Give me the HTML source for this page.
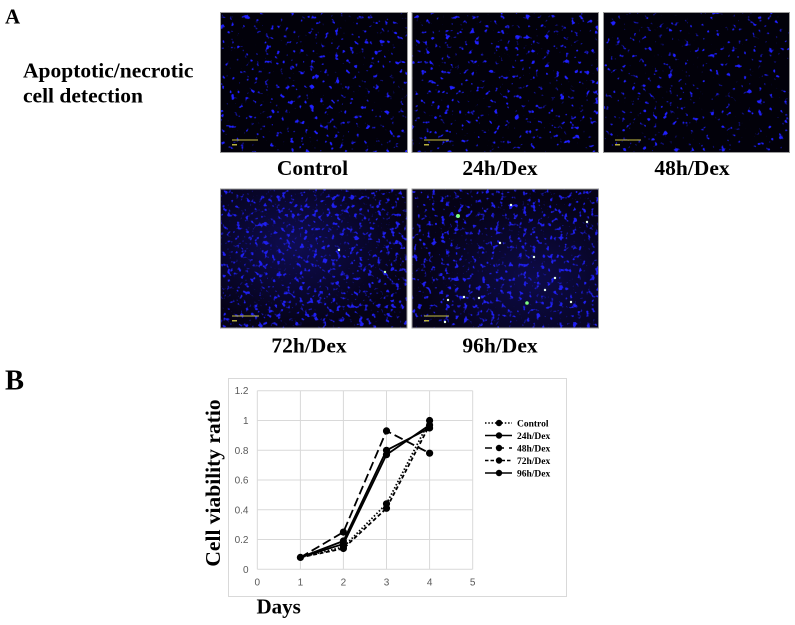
<!DOCTYPE html>
<html>
<head>
<meta charset="utf-8">
<style>
html,body{margin:0;padding:0;background:#fff;}
svg{display:block;}
.lbl{font-family:"Liberation Serif",serif;font-weight:bold;fill:#000;}
.tick{font-family:"Liberation Sans",sans-serif;font-size:10px;fill:#595959;}
</style>
</head>
<body>
<svg width="795" height="625" viewBox="0 0 795 625" xmlns="http://www.w3.org/2000/svg">
<defs>
  <filter id="sp" x="0" y="0" width="1" height="1" color-interpolation-filters="sRGB">
    <feTurbulence type="fractalNoise" baseFrequency="0.2" numOctaves="2" seed="3"/>
    <feColorMatrix type="matrix" values="0 0 0 0 0.12  0 0 0 0 0.12  0 0 0 0 1  9 0 0 0 -5.85"/>
  </filter>
  <filter id="sp2" x="0" y="0" width="1" height="1" color-interpolation-filters="sRGB">
    <feTurbulence type="fractalNoise" baseFrequency="0.2" numOctaves="2" seed="11"/>
    <feColorMatrix type="matrix" values="0 0 0 0 0.12  0 0 0 0 0.12  0 0 0 0 1  9 0 0 0 -5.85"/>
  </filter>
  <filter id="sp3" x="0" y="0" width="1" height="1" color-interpolation-filters="sRGB">
    <feTurbulence type="fractalNoise" baseFrequency="0.19" numOctaves="2" seed="21"/>
    <feColorMatrix type="matrix" values="0 0 0 0 0.12  0 0 0 0 0.12  0 0 0 0 1  9 0 0 0 -5.9"/>
  </filter>
  <filter id="dn" x="0" y="0" width="1" height="1" color-interpolation-filters="sRGB">
    <feTurbulence type="fractalNoise" baseFrequency="0.22" numOctaves="2" seed="7"/>
    <feColorMatrix type="matrix" values="0 0 0 0 0.12  0 0 0 0 0.12  0 0 0 0 0.95  8 0 0 0 -4.7"/>
  </filter>
  <filter id="dn2" x="0" y="0" width="1" height="1" color-interpolation-filters="sRGB">
    <feTurbulence type="fractalNoise" baseFrequency="0.22" numOctaves="2" seed="17"/>
    <feColorMatrix type="matrix" values="0 0 0 0 0.12  0 0 0 0 0.12  0 0 0 0 0.95  8 0 0 0 -4.8"/>
  </filter>
  <radialGradient id="h1" cx="0.4" cy="0.4" r="0.6">
    <stop offset="0" stop-color="#2020c0" stop-opacity="0.35"/>
    <stop offset="1" stop-color="#2020c0" stop-opacity="0"/>
  </radialGradient>
  <radialGradient id="h2" cx="0.65" cy="0.65" r="0.6">
    <stop offset="0" stop-color="#2020c0" stop-opacity="0.3"/>
    <stop offset="1" stop-color="#2020c0" stop-opacity="0"/>
  </radialGradient>
</defs>

<!-- Panel A -->
<text class="lbl" x="5" y="23.5" font-size="21">A</text>
<text class="lbl" x="23" y="77.5" font-size="21.5">Apoptotic/necrotic</text>
<text class="lbl" x="23" y="102.5" font-size="21.5">cell detection</text>

<!-- Row 1 images -->
<rect x="220.5" y="12.5" width="187" height="140" fill="#02010a"/>
<rect x="220.5" y="12.5" width="187" height="140" fill="#000" filter="url(#sp)"/>
<rect x="220.5" y="12.5" width="187" height="140" fill="none" stroke="#9a9a9a" stroke-width="1"/>
<line x1="232" y1="140" x2="258" y2="140" stroke="#c8c040" stroke-width="1"/>
<rect x="232" y="144" width="5" height="1.5" fill="#b8b040"/>

<rect x="412" y="12.5" width="186.5" height="140" fill="#02010a"/>
<rect x="412" y="12.5" width="186.5" height="140" fill="#000" filter="url(#sp2)"/>
<rect x="412" y="12.5" width="186.5" height="140" fill="none" stroke="#9a9a9a" stroke-width="1"/>
<line x1="424" y1="140" x2="449" y2="140" stroke="#c8c040" stroke-width="1"/>
<rect x="424" y="144" width="5" height="1.5" fill="#b8b040"/>

<rect x="603.5" y="12.5" width="186" height="140" fill="#02010a"/>
<rect x="603.5" y="12.5" width="186" height="140" fill="#000" filter="url(#sp3)"/>
<rect x="603.5" y="12.5" width="186" height="140" fill="none" stroke="#9a9a9a" stroke-width="1"/>
<line x1="615" y1="140" x2="641" y2="140" stroke="#c8c040" stroke-width="1"/>
<rect x="615" y="144" width="5" height="1.5" fill="#b8b040"/>

<text class="lbl" x="312.5" y="175" font-size="21.5" text-anchor="middle">Control</text>
<text class="lbl" x="500" y="175" font-size="21.5" text-anchor="middle">24h/Dex</text>
<text class="lbl" x="692" y="175" font-size="21.5" text-anchor="middle">48h/Dex</text>

<!-- Row 2 images -->
<rect x="220.5" y="189" width="186.5" height="139" fill="#050216"/>
<rect x="220.5" y="189" width="186.5" height="139" fill="url(#h1)"/>
<rect x="220.5" y="189" width="186.5" height="139" fill="#000" filter="url(#dn)"/>
<rect x="220.5" y="189" width="186.5" height="139" fill="none" stroke="#9a9a9a" stroke-width="1"/>
<line x1="232" y1="316" x2="259" y2="316" stroke="#c8c040" stroke-width="1"/>
<rect x="232" y="320" width="5" height="1.5" fill="#b8b040"/>
<circle cx="339" cy="250" r="1.2" fill="#e0ffe0"/>
<circle cx="385" cy="272" r="1.2" fill="#c0ffc0"/>

<rect x="412" y="189" width="186.5" height="139" fill="#050216"/>
<rect x="412" y="189" width="186.5" height="139" fill="url(#h2)"/>
<rect x="412" y="189" width="186.5" height="139" fill="#000" filter="url(#dn2)"/>
<rect x="412" y="189" width="186.5" height="139" fill="none" stroke="#9a9a9a" stroke-width="1"/>
<line x1="424" y1="316" x2="449" y2="316" stroke="#c8c040" stroke-width="1"/>
<rect x="424" y="320" width="5" height="1.5" fill="#b8b040"/>
<g fill="#e8ffe8">
  <circle cx="458" cy="216" r="2" fill="#80ff80"/>
  <circle cx="500" cy="243" r="1.2"/>
  <circle cx="534" cy="257" r="1.2"/>
  <circle cx="479" cy="298" r="1.2"/>
  <circle cx="545" cy="290" r="1.2"/>
  <circle cx="527" cy="303" r="1.8" fill="#80ff80"/>
  <circle cx="571" cy="302" r="1.2"/>
  <circle cx="587" cy="222" r="1.2"/>
  <circle cx="464" cy="297" r="1.2"/>
  <circle cx="448" cy="300" r="1.2"/>
  <circle cx="445" cy="322" r="1.2"/>
  <circle cx="511" cy="205" r="1.2"/>
  <circle cx="555" cy="278" r="1.2"/>
</g>

<text class="lbl" x="309" y="352.5" font-size="21.5" text-anchor="middle">72h/Dex</text>
<text class="lbl" x="500" y="352.5" font-size="21.5" text-anchor="middle">96h/Dex</text>

<!-- Panel B -->
<text class="lbl" x="5" y="389.5" font-size="28.5">B</text>

<!-- chart frame -->
<rect x="228.5" y="378.5" width="338" height="218" fill="#fff" stroke="#d9d9d9" stroke-width="1"/>

<!-- gridlines -->
<g stroke="#d9d9d9" stroke-width="1">
  <line x1="257.3" y1="390.7" x2="472.7" y2="390.7"/>
  <line x1="257.3" y1="420.5" x2="472.7" y2="420.5"/>
  <line x1="257.3" y1="450.3" x2="472.7" y2="450.3"/>
  <line x1="257.3" y1="480.0" x2="472.7" y2="480.0"/>
  <line x1="257.3" y1="509.8" x2="472.7" y2="509.8"/>
  <line x1="257.3" y1="539.5" x2="472.7" y2="539.5"/>
  <line x1="257.3" y1="569.3" x2="472.7" y2="569.3"/>
  <line x1="257.3" y1="390.7" x2="257.3" y2="569.3"/>
  <line x1="300.4" y1="390.7" x2="300.4" y2="569.3"/>
  <line x1="343.4" y1="390.7" x2="343.4" y2="569.3"/>
  <line x1="386.5" y1="390.7" x2="386.5" y2="569.3"/>
  <line x1="429.6" y1="390.7" x2="429.6" y2="569.3"/>
  <line x1="472.7" y1="390.7" x2="472.7" y2="569.3"/>
</g>

<!-- y tick labels -->
<g class="tick" text-anchor="end">
  <text x="248.5" y="394.2">1.2</text>
  <text x="248.5" y="424">1</text>
  <text x="248.5" y="453.8">0.8</text>
  <text x="248.5" y="483.5">0.6</text>
  <text x="248.5" y="513.3">0.4</text>
  <text x="248.5" y="543">0.2</text>
  <text x="248.5" y="572.8">0</text>
</g>
<g class="tick" text-anchor="middle">
  <text x="257.3" y="585.5">0</text>
  <text x="300.4" y="585.5">1</text>
  <text x="343.4" y="585.5">2</text>
  <text x="386.5" y="585.5">3</text>
  <text x="429.6" y="585.5">4</text>
  <text x="472.7" y="585.5">5</text>
</g>

<!-- axis titles -->
<text class="lbl" font-size="21.5" text-anchor="middle" transform="translate(220,483) rotate(-90)">Cell viability ratio</text>
<text class="lbl" x="256.5" y="613.5" font-size="21">Days</text>

<!-- series -->
<g fill="none" stroke="#000" stroke-width="1.8">
  <polyline points="300.4,557.4 343.4,547.0 386.5,503.8 429.6,420.5" stroke-dasharray="1.5 2"/>
  <polyline points="300.4,557.4 343.4,541.0 386.5,450.3 429.6,428.0"/>
  <polyline points="300.4,557.4 343.4,532.1 386.5,430.9 429.6,453.2" stroke-dasharray="9 4"/>
  <polyline points="300.4,557.4 343.4,548.5 386.5,508.3 429.6,425.0" stroke-dasharray="4 2.5"/>
  <polyline points="300.4,557.4 343.4,544.0 386.5,454.7 429.6,425.0"/>
</g>
<g fill="#000">
  <circle cx="300.4" cy="557.4" r="3.6"/>
  <circle cx="343.4" cy="547.0" r="3.6"/>
  <circle cx="343.4" cy="541.0" r="3.6"/>
  <circle cx="343.4" cy="532.1" r="3.6"/>
  <circle cx="343.4" cy="548.5" r="3.6"/>
  <circle cx="343.4" cy="544.0" r="3.6"/>
  <circle cx="386.5" cy="503.8" r="3.6"/>
  <circle cx="386.5" cy="450.3" r="3.6"/>
  <circle cx="386.5" cy="430.9" r="3.6"/>
  <circle cx="386.5" cy="508.3" r="3.6"/>
  <circle cx="386.5" cy="454.7" r="3.6"/>
  <circle cx="429.6" cy="420.5" r="3.6"/>
  <circle cx="429.6" cy="428.0" r="3.6"/>
  <circle cx="429.6" cy="453.2" r="3.6"/>
  <circle cx="429.6" cy="425.0" r="3.6"/>
</g>

<!-- legend -->
<g stroke="#000" stroke-width="1.6" fill="none">
  <line x1="485" y1="423" x2="512" y2="423" stroke-dasharray="1.5 1.8"/>
  <line x1="485" y1="435.5" x2="512" y2="435.5"/>
  <line x1="485" y1="448" x2="512" y2="448" stroke-dasharray="7 5"/>
  <line x1="485" y1="460.5" x2="512" y2="460.5" stroke-dasharray="3.5 2"/>
  <line x1="485" y1="473" x2="512" y2="473"/>
</g>
<g fill="#000">
  <circle cx="499" cy="423" r="3.2"/>
  <circle cx="499" cy="435.5" r="3.2"/>
  <circle cx="499" cy="448" r="3.2"/>
  <circle cx="499" cy="460.5" r="3.2"/>
  <circle cx="499" cy="473" r="3.2"/>
</g>
<g class="lbl" font-size="9.5">
  <text x="517" y="426.5">Control</text>
  <text x="517" y="439">24h/Dex</text>
  <text x="517" y="451.5">48h/Dex</text>
  <text x="517" y="464">72h/Dex</text>
  <text x="517" y="476.5">96h/Dex</text>
</g>
</svg>
</body>
</html>
